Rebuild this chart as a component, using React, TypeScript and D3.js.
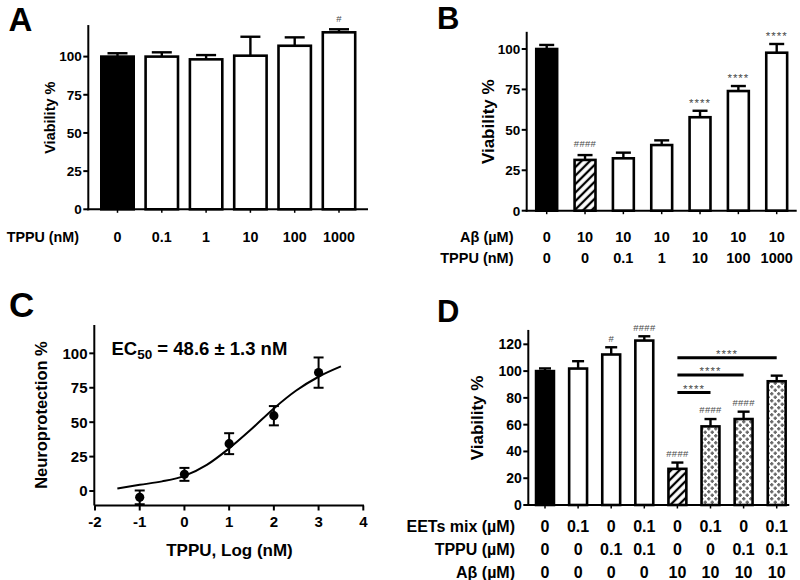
import React from "react";
import * as d3 from "d3";

const W = 800;
const H = 580;
const FONT = "'Liberation Sans', Arial, Helvetica, sans-serif";

// ---------- Panel A ----------
const aTppu = ["0", "0.1", "1", "10", "100", "1000"];
const aValues = [100, 100, 98.2, 100.6, 107.1, 115.9];
const aErrors = [2.2, 2.8, 2.8, 12.4, 5.5, 2.0];
const aMarks = ["", "", "", "", "", "#"];
const aFills = ["black", "white", "white", "white", "white", "white"];
const aYTicks = [0, 25, 50, 75, 100];

// ---------- Panel B ----------
const bAbeta = ["0", "10", "10", "10", "10", "10", "10"];
const bTppu = ["0", "0", "0.1", "1", "10", "100", "1000"];
const bValues = [100, 31.4, 32.4, 40.6, 57.8, 74, 97.7];
const bErrors = [2.5, 3, 3.5, 2.9, 4, 3.1, 5.4];
const bMarks = ["", "####", "", "", "****", "****", "****"];
const bFills = ["black", "hatch", "white", "white", "white", "white", "white"];
const bYTicks = [0, 25, 50, 75, 100];

// ---------- Panel C ----------
const cLogDose = [-1, 0, 1, 2, 3];
const cProtection = [-4.6, 12.1, 34.4, 54.7, 86];
const cErrors = [5, 4.7, 7.6, 7, 11];
const cFitX = [-1.5, -1, -0.5, 0, 0.5, 1, 1.5, 2, 2.5, 3, 3.5];
const cFitY = [1.8, 4.5, 7, 11, 19, 31, 45, 60, 73, 83, 90.5];
const cXTicks = [-2, -1, 0, 1, 2, 3, 4];
const cYTicks = [0, 25, 50, 75, 100];

// ---------- Panel D ----------
const dEets = ["0", "0.1", "0", "0.1", "0", "0.1", "0", "0.1"];
const dTppu = ["0", "0", "0.1", "0.1", "0", "0", "0.1", "0.1"];
const dAbeta = ["0", "0", "0", "0", "10", "10", "10", "10"];
const dValues = [100, 101.9, 112.4, 122.8, 27, 58.7, 64.2, 92.4];
const dErrors = [2, 5.5, 5.4, 3.2, 4.7, 5.5, 5.5, 4.2];
const dMarks = ["", "", "#", "####", "####", "####", "####", ""];
const dFills = ["black", "white", "white", "white", "hatch", "dots", "dots", "dots"];
const dBrackets = [
  [4, 5, 84],
  [4, 6, 97],
  [4, 7, 110],
];
const dYTicks = [0, 20, 40, 60, 80, 100, 120];

type Row = { label: string; values: string[]; y: number };

type BarCfg = {
  axisX: number;
  axisEnd: number;
  yBottom: number;
  yTop: number;
  yMax: number;
  ticks: number[];
  firstC: number;
  lastC: number;
  barW: number;
  capW: number;
  values: number[];
  errors: number[];
  marks: string[];
  fills: string[];
  rows: Row[];
  rowLabelX: number;
  rowFont: number;
  tickFont: number;
  yTitle: string;
  yTitleX: number;
  yTitleFont: number;
  markGap: number;
  brackets?: number[][];
};

function fillOf(f: string) {
  if (f === "hatch") return "url(#hatch)";
  if (f === "dots") return "url(#dots)";
  return f;
}

function Mark({ x, y, s }: { x: number; y: number; s: string }) {
  const star = s.includes("*");
  return (
    <text
      x={x}
      y={y}
      dy={star ? "0.62em" : "0.35em"}
      textAnchor="middle"
      fontSize={star ? 11.5 : 9.5}
      letterSpacing={star ? 1 : 0.3}
      fontWeight="normal"
      fill="#4a4a4a"
    >
      {s}
    </text>
  );
}

function BarPanel({ c }: { c: BarCfg }) {
  const y = d3.scaleLinear().domain([0, c.yMax]).range([c.yBottom, c.yTop]);
  const idx = c.values.map((_, i) => String(i));
  const x = d3.scalePoint<string>().domain(idx).range([c.firstC, c.lastC]);
  const sw = 2.6;
  const innerW = c.barW - sw;
  return (
    <g fontFamily={FONT} fontWeight="bold">
      {c.values.map((v, i) => {
        const cx = x(String(i))!;
        const top = y(v);
        const errTop = y(v + c.errors[i]);
        return (
          <g key={i}>
            <line x1={cx} x2={cx} y1={top} y2={errTop} stroke="black" strokeWidth={2.4} />
            <line x1={cx - c.capW / 2} x2={cx + c.capW / 2} y1={errTop} y2={errTop} stroke="black" strokeWidth={2.4} />
            <rect
              x={cx - innerW / 2}
              y={top}
              width={innerW}
              height={c.yBottom - top}
              fill={fillOf(c.fills[i])}
              stroke="black"
              strokeWidth={sw}
            />
            {c.marks[i] && <Mark x={cx} y={errTop - c.markGap} s={c.marks[i]} />}
            <line x1={cx} x2={cx} y1={c.yBottom} y2={c.yBottom + 3.5} stroke="black" strokeWidth={1.5} />
          </g>
        );
      })}
      {(c.brackets || []).map((b, k) => {
        const xa = x(String(b[0]))!;
        const xb = x(String(b[1]))!;
        const yy = y(b[2]);
        return (
          <g key={"b" + k}>
            <line x1={xa} x2={xb} y1={yy} y2={yy} stroke="black" strokeWidth={3} />
            <Mark x={(xa + xb) / 2} y={yy - 7} s="****" />
          </g>
        );
      })}
      <line x1={c.axisX} x2={c.axisX} y1={c.yBottom + 1} y2={c.yTop - 1} stroke="black" strokeWidth={2} />
      <line x1={c.axisX - 1} x2={c.axisEnd} y1={c.yBottom} y2={c.yBottom} stroke="black" strokeWidth={2} />
      {c.ticks.map((t) => (
        <g key={"t" + t}>
          <line x1={c.axisX - 5} x2={c.axisX} y1={y(t)} y2={y(t)} stroke="black" strokeWidth={2} />
          <text x={c.axisX - 6.5} y={y(t)} dy="0.36em" textAnchor="end" fontSize={c.tickFont}>
            {t}
          </text>
        </g>
      ))}
      <text
        transform={`translate(${c.yTitleX},${(c.yBottom + c.yTop) / 2}) rotate(-90)`}
        textAnchor="middle"
        dy="0.35em"
        fontSize={c.yTitleFont}
      >
        {c.yTitle}
      </text>
      {c.rows.map((r, ri) => (
        <g key={"r" + ri}>
          <text x={c.rowLabelX} y={r.y} dy="0.36em" textAnchor="end" fontSize={c.rowFont}>
            {r.label}
          </text>
          {r.values.map((s, i) => (
            <text key={i} x={x(String(i))!} y={r.y} dy="0.36em" textAnchor="middle" fontSize={c.rowFont}>
              {s}
            </text>
          ))}
        </g>
      ))}
    </g>
  );
}

function PanelC() {
  const x = d3.scaleLinear().domain([-2, 4]).range([95, 363.3]);
  const y = d3.scaleLinear().domain([-10, 120]).range([504.8, 325.8]);
  const fit = cFitX.map((v, i) => [v, cFitY[i]] as [number, number]);
  const line = d3
    .line<[number, number]>()
    .x((d) => x(d[0]))
    .y((d) => y(d[1]))
    .curve(d3.curveMonotoneX);
  const axisY = 505.5;
  return (
    <g fontFamily={FONT} fontWeight="bold">
      <path d={line(fit) || ""} fill="none" stroke="black" strokeWidth={2} />
      {cLogDose.map((v, i) => {
        const cx = x(v);
        const lo = y(cProtection[i] - cErrors[i]);
        const hi = y(cProtection[i] + cErrors[i]);
        return (
          <g key={i}>
            <line x1={cx} x2={cx} y1={lo} y2={hi} stroke="black" strokeWidth={2} />
            <line x1={cx - 5} x2={cx + 5} y1={lo} y2={lo} stroke="black" strokeWidth={2} />
            <line x1={cx - 5} x2={cx + 5} y1={hi} y2={hi} stroke="black" strokeWidth={2} />
            <circle cx={cx} cy={y(cProtection[i])} r={4.6} fill="black" />
          </g>
        );
      })}
      <line x1={94.3} x2={94.3} y1={axisY} y2={325} stroke="black" strokeWidth={2} />
      <line x1={94.3} x2={364} y1={axisY} y2={axisY} stroke="black" strokeWidth={2} />
      {cYTicks.map((t) => (
        <g key={"y" + t}>
          <line x1={89.3} x2={94.3} y1={y(t)} y2={y(t)} stroke="black" strokeWidth={2} />
          <text x={87.5} y={y(t)} dy="0.36em" textAnchor="end" fontSize={15}>
            {t}
          </text>
        </g>
      ))}
      {cXTicks.map((t) => (
        <g key={"x" + t}>
          <line x1={x(t)} x2={x(t)} y1={axisY} y2={axisY + 5} stroke="black" strokeWidth={2} />
          <text x={x(t)} y={521.5} dy="0.36em" textAnchor="middle" fontSize={15}>
            {t}
          </text>
        </g>
      ))}
      <text x={229.5} y={550} dy="0.36em" textAnchor="middle" fontSize={17}>
        TPPU, Log (nM)
      </text>
      <text transform={`translate(41.5,415) rotate(-90)`} textAnchor="middle" dy="0.35em" fontSize={16.5}>
        Neuroprotection %
      </text>
      <text x={111.5} y={355} fontSize={18.5}>
        EC
        <tspan fontSize={13.5} dy={4}>
          50
        </tspan>
        <tspan dy={-4}> = 48.6 ± 1.3 nM</tspan>
      </text>
    </g>
  );
}

export default function App() {
  const cfgA: BarCfg = {
    axisX: 88.3,
    axisEnd: 368,
    yBottom: 209.3,
    yTop: 209.3 - 120 * 1.527,
    yMax: 120,
    ticks: aYTicks,
    firstC: 117.5,
    lastC: 339,
    barW: 35,
    capW: 20,
    values: aValues,
    errors: aErrors,
    marks: aMarks,
    fills: aFills,
    rows: [{ label: "TPPU (nM)", values: aTppu, y: 237 }],
    rowLabelX: 79,
    rowFont: 14.3,
    tickFont: 13.5,
    yTitle: "Viability %",
    yTitleX: 50,
    yTitleFont: 14.5,
    markGap: 11,
  };
  const cfgB: BarCfg = {
    axisX: 526.7,
    axisEnd: 796.7,
    yBottom: 210.7,
    yTop: 210.7 - 110 * 1.617,
    yMax: 110,
    ticks: bYTicks,
    firstC: 546.7,
    lastC: 776.7,
    barW: 23.5,
    capW: 15,
    values: bValues,
    errors: bErrors,
    marks: bMarks,
    fills: bFills,
    rows: [
      { label: "Aβ (µM)", values: bAbeta, y: 237 },
      { label: "TPPU (nM)", values: bTppu, y: 258 },
    ],
    rowLabelX: 513.5,
    rowFont: 14.5,
    tickFont: 13.5,
    yTitle: "Viability %",
    yTitleX: 488,
    yTitleFont: 17,
    markGap: 11,
  };
  const cfgD: BarCfg = {
    axisX: 528.3,
    axisEnd: 789.3,
    yBottom: 505,
    yTop: 505 - 130 * 1.339,
    yMax: 130,
    ticks: dYTicks,
    firstC: 545,
    lastC: 776.7,
    barW: 20.5,
    capW: 12,
    values: dValues,
    errors: dErrors,
    marks: dMarks,
    fills: dFills,
    rows: [
      { label: "EETs mix (µM)", values: dEets, y: 526.7 },
      { label: "TPPU (µM)", values: dTppu, y: 549.3 },
      { label: "Aβ (µM)", values: dAbeta, y: 572.3 },
    ],
    rowLabelX: 515,
    rowFont: 16,
    tickFont: 14,
    yTitle: "Viability %",
    yTitleX: 476.7,
    yTitleFont: 17,
    markGap: 9,
    brackets: dBrackets,
  };
  return (
    <div style={{ position: "absolute", left: 0, top: 0, width: W, height: H, background: "white" }}>
      <svg width={W} height={H} viewBox={`0 0 ${W} ${H}`} style={{ display: "block" }}>
        <defs>
          <pattern id="hatch" width="6" height="6" patternUnits="userSpaceOnUse" patternTransform="rotate(45)">
            <rect width="6" height="6" fill="white" />
            <line x1="3" y1="0" x2="3" y2="6" stroke="black" strokeWidth="2.3" />
          </pattern>
          <pattern id="dots" width="7" height="7" patternUnits="userSpaceOnUse">
            <rect width="7" height="7" fill="white" />
            {[
              [1.75, 1.75],
              [5.25, 5.25],
            ].map(([cx, cy], k) => (
              <g key={k} fill="#6a6a6a">
                <rect x={cx - 1.7} y={cy - 0.8} width={3.4} height={1.6} />
                <rect x={cx - 0.8} y={cy - 1.7} width={1.6} height={3.4} />
              </g>
            ))}
          </pattern>
        </defs>
        <rect width={W} height={H} fill="white" />
        <BarPanel c={cfgA} />
        <BarPanel c={cfgB} />
        <PanelC />
        <BarPanel c={cfgD} />
        <g fontFamily={FONT} fontWeight="bold" fill="black">
          <text x={8.5} y={30.5} fontSize={33}>A</text>
          <text x={437} y={28.5} fontSize={31}>B</text>
          <text x={9} y={317.3} fontSize={35}>C</text>
          <text x={437} y={321.7} fontSize={31}>D</text>
        </g>
      </svg>
    </div>
  );
}
